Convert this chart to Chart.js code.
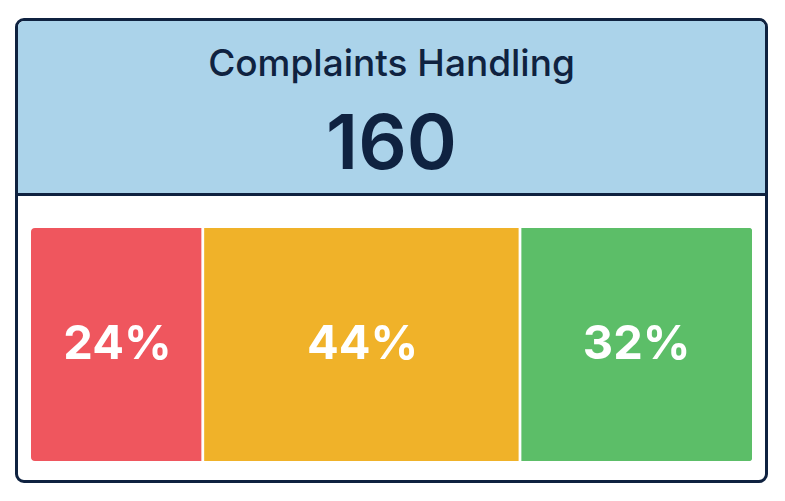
<!DOCTYPE html>
<html>
<head>
<meta charset="utf-8">
<script src="https://cdn.jsdelivr.net/npm/chart.js@4"></script>
<style>
    html, body { margin: 0; padding: 0; background: #fff; width: 785px; height: 501px; overflow: hidden; }
    body { font-family: Inter, "Noto Sans", sans-serif; }
    .card {
        position: absolute; left: 15px; top: 18px; width: 747px; height: 459px;
        border: 3px solid #0f2240; border-radius: 9px; overflow: hidden; background: #fff;
    }
    .card-head {
        position: absolute; left: 0; top: 0; right: 0; height: 172px;
        background: #abd3ea; border-bottom: 3px solid #0f2240;
    }
    .card-title {
        position: absolute; left: 0; right: 0; top: 20px; text-align: center;
        font-size: 37px; font-weight: 500; color: #0f2240; line-height: 44px;
    }
    .card-total {
        position: absolute; left: 0; right: 0; top: 75px; text-align: center;
        font-size: 76px; font-weight: 600; color: #0f2240; line-height: 90px;
    }
    .chart-box { position: absolute; left: 31px; top: 228px; width: 721px; height: 233px; }
</style>
</head>
<body>
<div class="card">
    <div class="card-head">
        <div class="card-title" id="title"></div>
        <div class="card-total" id="total"></div>
    </div>
</div>
<div class="chart-box"><canvas id="barChart"></canvas></div>

<script>
// Chart data
const chartTitle = 'Complaints Handling';
const totalCount = 160;
const categories = ['Complaints'];
const segmentNames = ['Unresolved', 'In progress', 'Resolved'];
const segmentValues = [24, 44, 32];
const segmentColors = ['#ef565e', '#f0b229', '#5cbe68'];

document.getElementById('title').textContent = chartTitle;
document.getElementById('total').textContent = totalCount;

// Draws the percent label centred in each bar segment
const segmentLabels = {
    id: 'segmentLabels',
    afterDatasetsDraw(chart) {
        const ctx = chart.ctx;
        ctx.save();
        ctx.fillStyle = '#ffffff';
        ctx.font = '700 47px Inter, "Noto Sans", sans-serif';
        ctx.textAlign = 'center';
        ctx.textBaseline = 'middle';
        chart.data.datasets.forEach((ds, i) => {
            chart.getDatasetMeta(i).data.forEach((bar, j) => {
                const c = bar.getCenterPoint();
                ctx.fillText(ds.data[j] + '%', c.x, c.y);
            });
        });
        ctx.restore();
    }
};

const last = segmentValues.length - 1;
const datasets = segmentValues.map((v, i) => ({
    label: segmentNames[i],
    data: [v],
    backgroundColor: segmentColors[i],
    borderColor: '#ffffff',
    borderWidth: { top: 0, bottom: 0, left: 0, right: i < last ? 3 : 0 },
    borderSkipped: false,
    borderRadius: {
        topLeft: i === 0 ? 4 : 0, bottomLeft: i === 0 ? 4 : 0,
        topRight: i === last ? 4 : 0, bottomRight: i === last ? 4 : 0
    },
    barPercentage: 1,
    categoryPercentage: 1
}));

new Chart(document.getElementById('barChart'), {
    type: 'bar',
    data: { labels: categories, datasets: datasets },
    options: {
        indexAxis: 'y',
        responsive: true,
        maintainAspectRatio: false,
        animation: false,
        layout: { padding: 0 },
        plugins: {
            legend: { display: false },
            tooltip: { enabled: false }
        },
        scales: {
            x: { stacked: true, min: 0, max: 100, display: false },
            y: { stacked: true, display: false }
        }
    },
    plugins: [segmentLabels]
});
</script>
</body>
</html>
